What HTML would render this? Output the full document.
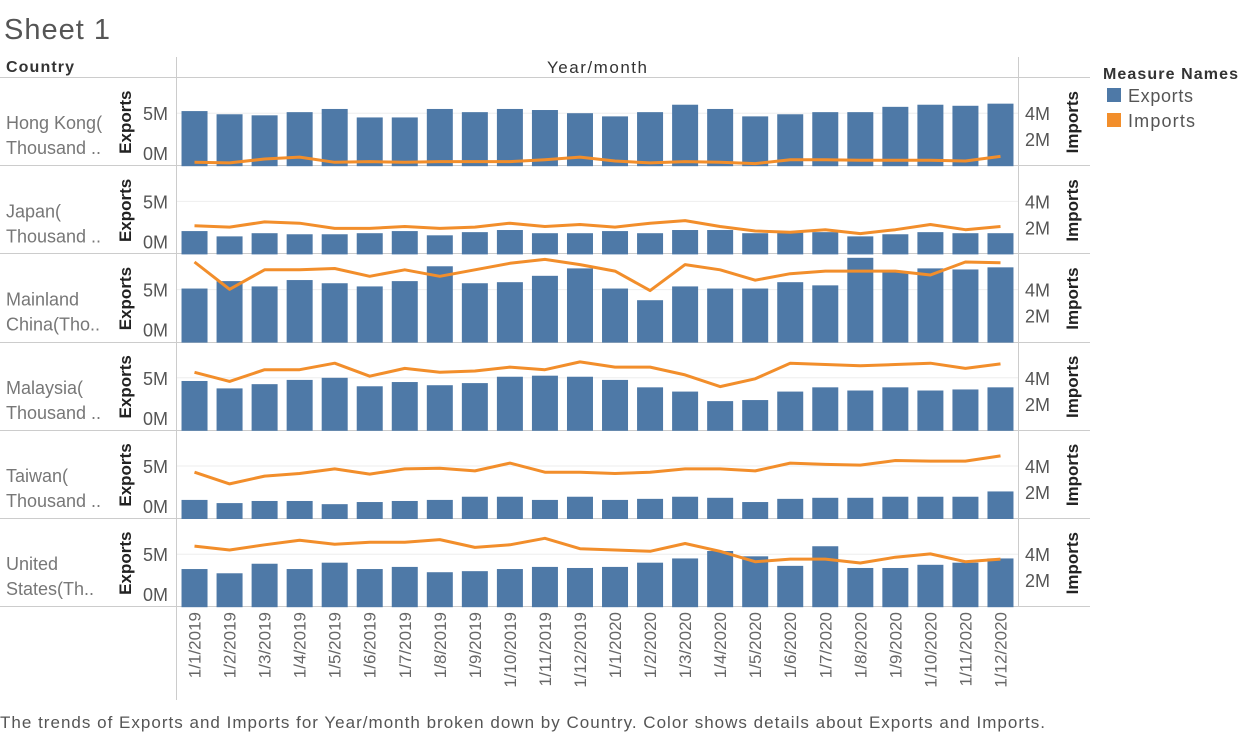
<!DOCTYPE html>
<html><head><meta charset="utf-8"><style>
body{margin:0;background:#fff;width:1243px;height:735px;overflow:hidden;font-family:"Liberation Sans",sans-serif}
svg text{font-family:"Liberation Sans",sans-serif}
</style></head><body>
<svg id="c" width="1243" height="735" xmlns="http://www.w3.org/2000/svg">
<text x="4" y="39" font-size="29" fill="#555" textLength="106">Sheet 1</text>
<text x="6" y="72" font-size="16" font-weight="bold" fill="#333" textLength="68">Country</text>
<text x="597" y="73" font-size="17" fill="#333" text-anchor="middle" textLength="100">Year/month</text>
<text x="1103" y="79" font-size="16" font-weight="bold" fill="#333" textLength="135">Measure Names</text>
<rect x="1107" y="88" width="14" height="14" fill="#4e79a7"/>
<text x="1128" y="102" font-size="18" fill="#555" textLength="65">Exports</text>
<rect x="1107" y="113" width="14" height="14" fill="#f28e2b"/>
<text x="1128" y="127" font-size="18" fill="#555" textLength="67">Imports</text>
<text x="0" y="728" font-size="17" fill="#555" textLength="1045">The trends of Exports and Imports for Year/month broken down by Country.  Color shows details about Exports and Imports.</text>
<g id="g"></g>
</svg>
<script>
const months=["1/1/2019","1/2/2019","1/3/2019","1/4/2019","1/5/2019","1/6/2019","1/7/2019","1/8/2019","1/9/2019","1/10/2019","1/11/2019","1/12/2019","1/1/2020","1/2/2020","1/3/2020","1/4/2020","1/5/2020","1/6/2020","1/7/2020","1/8/2020","1/9/2020","1/10/2020","1/11/2020","1/12/2020"];
const countryLine1=["Hong Kong(","Japan(","Mainland","Malaysia(","Taiwan(","United"];
const countryLine2=["Thousand ..","Thousand ..","China(Tho..","Thousand ..","Thousand ..","States(Th.."];
const exportsHK=[5.2,4.9,4.8,5.1,5.4,4.6,4.6,5.4,5.1,5.4,5.3,5.0,4.7,5.1,5.8,5.4,4.7,4.9,5.1,5.1,5.6,5.8,5.7,5.9];
const importsHK=[0.3,0.25,0.55,0.7,0.3,0.35,0.3,0.35,0.35,0.35,0.5,0.7,0.4,0.25,0.35,0.3,0.2,0.5,0.5,0.45,0.45,0.45,0.4,0.75];
const exportsJP=[2.2,1.7,2.0,1.9,1.9,2.0,2.2,1.8,2.1,2.3,2.0,2.0,2.2,2.0,2.3,2.3,2.0,2.1,2.1,1.7,1.9,2.1,2.0,2.0];
const importsJP=[2.2,2.1,2.5,2.4,2.0,2.0,2.15,2.0,2.1,2.4,2.15,2.3,2.1,2.4,2.6,2.15,1.8,1.7,1.9,1.6,1.9,2.3,1.9,2.15];
const exportsCN=[5.1,5.8,5.3,5.9,5.6,5.3,5.8,7.2,5.6,5.7,6.3,7.0,5.1,4.0,5.3,5.1,5.1,5.7,5.4,8.0,6.7,7.0,6.9,7.1];
const importsCN=[6.2,4.1,5.6,5.6,5.7,5.1,5.6,5.1,5.6,6.1,6.4,6.0,5.5,4.0,6.0,5.6,4.8,5.3,5.5,5.5,5.5,5.2,6.2,6.15];
const exportsMY=[4.7,4.0,4.4,4.8,5.0,4.2,4.6,4.3,4.5,5.1,5.2,5.1,4.8,4.1,3.7,2.8,2.9,3.7,4.1,3.8,4.1,3.8,3.9,4.1];
const importsMY=[4.5,3.8,4.7,4.7,5.2,4.2,4.8,4.5,4.6,4.9,4.7,5.3,4.9,4.9,4.3,3.4,4.0,5.2,5.1,5.0,5.1,5.2,4.8,5.15];
const exportsTW=[1.8,1.5,1.7,1.7,1.4,1.6,1.7,1.8,2.1,2.1,1.8,2.1,1.8,1.9,2.1,2.0,1.6,1.9,2.0,2.0,2.1,2.1,2.1,2.6];
const importsTW=[3.6,2.7,3.3,3.5,3.85,3.45,3.85,3.9,3.7,4.3,3.6,3.6,3.5,3.6,3.85,3.85,3.7,4.3,4.2,4.15,4.5,4.45,4.45,4.85];
const exportsUS=[3.6,3.2,4.1,3.6,4.2,3.6,3.8,3.3,3.4,3.6,3.8,3.7,3.8,4.2,4.6,5.3,4.8,3.9,5.75,3.7,3.7,4.0,4.2,4.6];
const importsUS=[4.7,4.4,4.8,5.15,4.85,5.0,5.0,5.2,4.6,4.8,5.3,4.5,4.4,4.3,4.9,4.3,3.5,3.7,3.7,3.4,3.85,4.1,3.5,3.7];
const exportsAll=[exportsHK,exportsJP,exportsCN,exportsMY,exportsTW,exportsUS];
const importsAll=[importsHK,importsJP,importsCN,importsMY,importsTW,importsUS];

const NS="http://www.w3.org/2000/svg";
const g=document.getElementById('g');
function mk(t,a,p){const e=document.createElementNS(NS,t);for(const k in a)e.setAttribute(k,a[k]);(p||g).appendChild(e);return e;}
const X0=177,X1=1018,BW=(X1-X0)/24,ROW0=78,RH=88.2;
const xs=i=>X0+BW*(i+0.5);
const yE=(r,v)=>ROW0+RH*(r+1)-v*10.6;
const yI=(r,v)=>ROW0+RH*(r+1)-v*13;

let l=mk('line',{x1:176.5,y1:57,x2:176.5,y2:700,stroke:'#ccc'});


l=mk('line',{x1:1018.5,y1:57,x2:1018.5,y2:607,stroke:'#ccc'});


for(let r=0;r<=6;r++){
  const y=Math.round(ROW0+RH*r)-0.5;
  l=mk('line',{x1:0,y1:y,x2:1090,y2:y,stroke:'#ccc'});
  
  
}
for(let r=0;r<6;r++){
  const bot=ROW0+RH*(r+1);
  const gl=mk('line',{x1:X0,y1:yE(r,5),x2:X1,y2:yE(r,5),stroke:'#eee'});
  
  
  const t1=mk('text',{x:6,y:bot-37,'font-size':18,fill:'#777'});t1.textContent=countryLine1[r];
  
  
  const t2=mk('text',{x:6,y:bot-12,'font-size':18,fill:'#777'});t2.textContent=countryLine2[r];
  
  
  const ea=mk('text',{x:0,y:0,'font-size':17,'font-weight':'bold',fill:'#222','text-anchor':'middle',transform:`translate(131,${bot-44}) rotate(-90)`});ea.textContent='Exports';
  
  
  const ia=mk('text',{x:0,y:0,'font-size':17,'font-weight':'bold',fill:'#222','text-anchor':'middle',transform:`translate(1078,${bot-44}) rotate(-90)`});ia.textContent='Imports';
  
  
  const k5=mk('text',{x:168,y:yE(r,5)+7,'font-size':18,fill:'#555','text-anchor':'end'});k5.textContent='5M';
  
  
  const k0=mk('text',{x:168,y:bot-6,'font-size':18,fill:'#555','text-anchor':'end'});k0.textContent='0M';
  
  
  [4,2].forEach(v=>{const k=mk('text',{x:1025,y:yI(r,v)+6,'font-size':18,fill:'#555'});k.textContent=v+'M';
    
    });
  exportsAll[r].forEach((v,i)=>{
    const b=mk('rect',{x:xs(i)-13,y:yE(r,v),width:26,height:v*10.6,fill:'#4e79a7'});
    
    
  });
  const pts=importsAll[r].map((v,i)=>xs(i).toFixed(1)+','+yI(r,v).toFixed(1)).join(' ');
  const pl=mk('polyline',{points:pts,fill:'none',stroke:'#f28e2b','stroke-width':3,'stroke-linejoin':'round'});
  
  
}
months.forEach((m,i)=>{
  const t=mk('text',{x:0,y:0,'font-size':17,fill:'#666','text-anchor':'end',transform:`translate(${xs(i)+6},612) rotate(-90)`});
  t.textContent=m;
  
  
});
</script>
</body></html>
